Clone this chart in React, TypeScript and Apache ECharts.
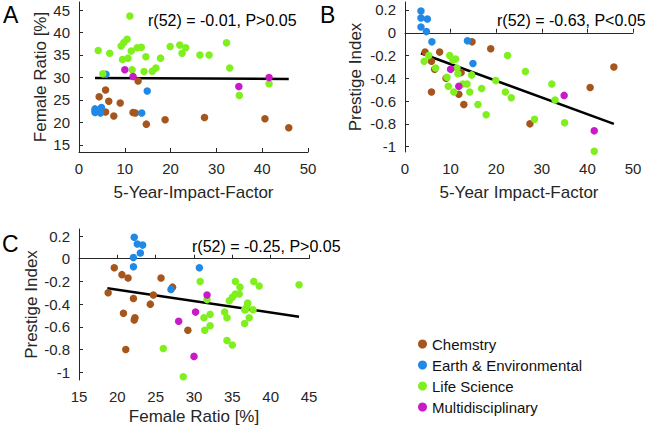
import React, { useEffect, useRef } from "react";
import * as echarts from "echarts";

// Chemistry
const chemIF = [12.9, 5.8, 4.4, 6.5, 9.0, 5.8, 7.6, 11.8, 12.3, 14.7, 18.8, 27.4, 40.6, 45.8];
const chemFR = [29.2, 27.2, 25.7, 24.7, 24.3, 22.3, 21.4, 22.2, 22.1, 19.6, 20.6, 21.1, 20.8, 18.8];
const chemPI = [-0.63, -0.25, -0.17, -0.32, -0.4, -0.52, -0.17, -0.54, -0.35, -0.08, -0.14, -0.8, -0.48, -0.3];

// Earth & Environmental
const earthIF = [3.5, 3.5, 4.9, 3.5, 4.7, 5.9, 13.7, 14.9];
const earthFR = [22.2, 22.6, 23.3, 23.0, 22.1, 30.7, 22.1, 27.0];
const earthPI = [0.19, 0.13, 0.12, 0.05, 0.01, -0.08, -0.07, -0.27];

// Life Science
const lifeIF = [4.2, 5.2, 6.7, 9.2, 9.5, 9.8, 10.5, 10.7, 11.1, 11.4, 11.6, 12.7, 13.6, 14.2, 14.6, 16.0, 16.8, 17.8, 19.9, 22.0, 22.5, 23.3, 26.4, 28.4, 32.2, 32.9, 35.0, 41.5];
const lifeFR = [36.0, 30.8, 35.4, 37.0, 34.0, 37.8, 38.5, 34.3, 43.7, 35.9, 31.7, 36.6, 36.7, 31.3, 34.6, 31.4, 32.1, 34.3, 36.9, 37.2, 35.4, 36.6, 35.0, 35.0, 37.7, 32.1, 26.0, 28.6];
const lifePI = [-0.25, -0.2, -0.31, -0.39, -0.47, -0.2, -0.24, -0.52, -0.23, -0.31, -0.36, -0.45, -0.45, -0.52, -0.37, -0.63, -0.49, -0.72, -0.42, -0.52, -0.2, -0.57, -0.34, -0.76, -0.45, -0.59, -0.79, -1.04];

// Multidisciplinary
const multiIF = [10.0, 11.8, 34.9, 41.5];
const multiFR = [31.7, 30.2, 28.0, 30.0];
const multiPI = [-0.32, -0.47, -0.55, -0.86];

// Regression line end points
const fitAX = [3.5, 45.8];
const fitAY = [29.85, 29.65];
const fitBX = [3.5, 45.8];
const fitBY = [-0.18, -0.8];
const fitCX = [18.7, 43.7];
const fitCY = [-0.26, -0.51];

const ticksFR = [15, 20, 25, 30, 35, 40, 45];
const ticksPI = [0.2, 0, -0.2, -0.4, -0.6, -0.8, -1];

const categoryNames = ["Chemstry", "Earth & Environmental", "Life Science", "Multidisciplinary"];
const categoryColors = ["#a5561c", "#2089e6", "#7ff01e", "#c81ac8"];

const statsTexts = ["r(52) = -0.01, P>0.05", "r(52) = -0.63, P<0.05", "r(52) = -0.25, P>0.05"];
const panelLetters = ["A", "B", "C"];

const FONT = "Liberation Sans, Arial, sans-serif";
const INK = "#262626";

function zip(a: number[], b: number[]) {
  return a.map((v, i) => [v, b[i]]);
}

export default function App() {
  const ref = useRef<HTMLDivElement>(null);
  useEffect(() => {
    if (!ref.current) return;
    const chart = echarts.init(ref.current, null, { renderer: "svg" });

    const groups = [
      { ifs: chemIF, fr: chemFR, pi: chemPI },
      { ifs: earthIF, fr: earthFR, pi: earthPI },
      { ifs: lifeIF, fr: lifeFR, pi: lifePI },
      { ifs: multiIF, fr: multiFR, pi: multiPI },
    ];

    const axisCommon = (extra: any) => ({
      type: "value",
      splitLine: { show: false },
      axisLine: { show: true, lineStyle: { color: INK, width: 1 } },
      axisTick: { show: true, inside: true, length: 4, lineStyle: { color: INK } },
      axisLabel: { color: INK, fontSize: 15, fontFamily: FONT, margin: 9 },
      nameTextStyle: { color: INK, fontSize: 17, fontFamily: FONT },
      nameLocation: "middle",
      ...extra,
    });

    const series: any[] = [];
    const fits = [
      [fitAX, fitAY],
      [fitBX, fitBY],
      [fitCX, fitCY],
    ];
    fits.forEach((f, k) => {
      series.push({
        type: "line",
        xAxisIndex: k,
        yAxisIndex: k,
        data: zip(f[0], f[1]),
        symbol: "none",
        lineStyle: { color: "#000", width: 2.5 },
        z: 1,
        silent: true,
      });
    });
    groups.forEach((g, c) => {
      const sets = [zip(g.ifs, g.fr), zip(g.ifs, g.pi), zip(g.fr, g.pi)];
      sets.forEach((d, k) => {
        series.push({
          name: categoryNames[c],
          type: "scatter",
          xAxisIndex: k,
          yAxisIndex: k,
          data: d,
          symbolSize: 7.5,
          itemStyle: { color: categoryColors[c], opacity: 1 },
          z: 2,
        });
      });
    });

    const yLabel = (vals: number[]) => ({ color: INK, fontSize: 15, fontFamily: FONT, margin: 9, customValues: vals });
    const yTick = (vals: number[]) => ({ show: true, inside: true, length: 4, lineStyle: { color: INK }, customValues: vals });

    const option: any = {
      animation: false,
      backgroundColor: "#ffffff",
      grid: [
        { left: 79, top: 2, width: 229, height: 150 },
        { left: 405, top: 2, width: 228, height: 150 },
        { left: 79, top: 229, width: 230, height: 151 },
      ],
      xAxis: [
        axisCommon({ gridIndex: 0, min: 0, max: 50, interval: 10, name: "5-Year-Impact-Factor", nameGap: 32 }),
        axisCommon({ gridIndex: 1, min: 0, max: 50, interval: 10, name: "5-Year Impact-Factor", nameGap: 32 }),
        axisCommon({ gridIndex: 2, min: 15, max: 45, interval: 5, name: "Female Ratio [%]", nameGap: 28 }),
      ],
      yAxis: [
        axisCommon({
          gridIndex: 0, min: 13.4, max: 46.8, name: "Female Ratio [%]", nameGap: 30, nameRotate: 90,
          axisLabel: yLabel(ticksFR), axisTick: yTick(ticksFR),
        }),
        axisCommon({
          gridIndex: 1, min: -1.047, max: 0.27, name: "Prestige Index", nameGap: 41, nameRotate: 90,
          axisLabel: yLabel(ticksPI), axisTick: yTick(ticksPI),
        }),
        axisCommon({
          gridIndex: 2, min: -1.068, max: 0.262, name: "Prestige Index", nameGap: 39, nameRotate: 90,
          axisLabel: yLabel(ticksPI), axisTick: yTick(ticksPI),
        }),
      ],
      legend: {
        orient: "vertical",
        left: 413,
        top: 331,
        icon: "circle",
        itemWidth: 9,
        itemHeight: 9,
        itemGap: 5,
        data: categoryNames,
        textStyle: { color: "#111", fontSize: 15, fontFamily: FONT, lineHeight: 16 },
      },
      graphic: [
        { type: "text", left: 3, top: 3, style: { text: panelLetters[0], fontSize: 23, fontFamily: FONT, fill: "#000" } },
        { type: "text", left: 320, top: 3, style: { text: panelLetters[1], fontSize: 23, fontFamily: FONT, fill: "#000" } },
        { type: "text", left: 2, top: 232, style: { text: panelLetters[2], fontSize: 23, fontFamily: FONT, fill: "#000" } },
        { type: "text", left: 148, top: 12, style: { text: statsTexts[0], fontSize: 16, fontFamily: FONT, fill: "#000" } },
        { type: "text", left: 497, top: 12, style: { text: statsTexts[1], fontSize: 16, fontFamily: FONT, fill: "#000" } },
        { type: "text", left: 192, top: 238, style: { text: statsTexts[2], fontSize: 16, fontFamily: FONT, fill: "#000" } },
      ],
      series,
    };
    chart.setOption(option);
    return () => chart.dispose();
  }, []);
  return (
    <div
      ref={ref}
      style={{ position: "fixed", left: 0, top: 0, width: 647, height: 430, background: "#fff" }}
    />
  );
}
